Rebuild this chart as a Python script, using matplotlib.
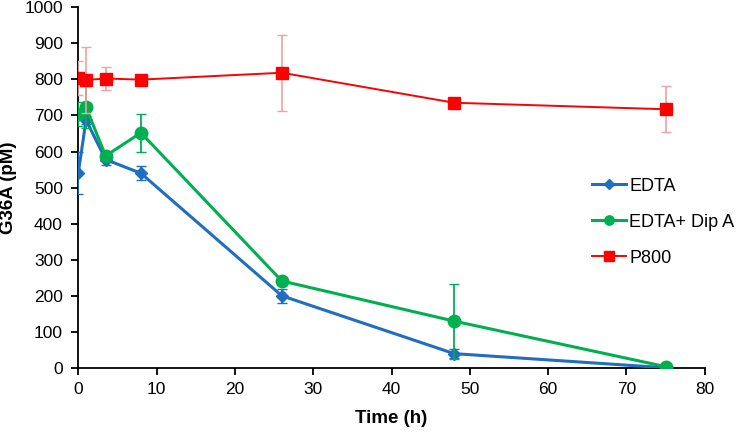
import matplotlib
matplotlib.use("Agg")
import matplotlib.pyplot as plt

plt.rcParams['font.family'] = ['Liberation Sans', 'DejaVu Sans']

# data
time_h = [0, 1, 3.5, 8, 26, 48, 75]
edta = [540, 687, 578, 540, 201, 41, 2]
edta_err = [58, 12, 15, 19, 20, 12, 0]
dipa = [703, 722, 588, 652, 242, 131, 5]
dipa_err = [33, 58, 10, 52, 8, 104, 0]
p800 = [803, 798, 802, 799, 818, 735, 717]
p800_err = [47, 90, 31, 8, 105, 8, 63]

fig = plt.figure(figsize=(7.38, 4.34), dpi=100)
ax = fig.add_axes([0.106, 0.151, 0.849, 0.833])

blue = '#1F6EBF'
green = '#00B050'
red = '#FF0000'

ax.errorbar(time_h, edta, yerr=edta_err, color=blue, lw=2.2, marker='D', ms=6.5,
            ecolor=blue, elinewidth=1.3, capsize=3.5, label='EDTA', zorder=3)
ax.errorbar(time_h, dipa, yerr=dipa_err, color=green, lw=2.2, marker='o', ms=9,
            ecolor=green, elinewidth=1.3, capsize=3.5, label='EDTA+ Dip A', zorder=4)
ax.errorbar(time_h, p800, yerr=p800_err, color=red, lw=1.4, marker='s', ms=9,
            ecolor='#F4A0A0', elinewidth=1.2, capsize=3.5, label='P800', zorder=5)

ax.set_xlim(0, 80)
ax.set_ylim(0, 1000)
ax.set_xticks(range(0, 81, 10))
ax.set_yticks(range(0, 1001, 100))
ax.spines['top'].set_visible(False)
ax.spines['right'].set_visible(False)
ax.spines['left'].set_linewidth(1.3)
ax.spines['bottom'].set_linewidth(1.3)
ax.tick_params(direction='out', length=5, width=1.3, labelsize=12.5)
ax.tick_params(axis='y', pad=6)
ax.tick_params(axis='x', pad=5)
ax.set_xlabel('Time (h)', fontsize=13.5, fontweight='bold')
ax.set_ylabel('G36A (pM)', fontsize=13.5, fontweight='bold')
ax.xaxis.set_label_coords(0.5, -0.115)
ax.yaxis.set_label_coords(-0.097, 0.5)

handles, labels = ax.get_legend_handles_labels()
handles = [h[0] for h in handles]
ax.legend(handles, labels, loc='center left', bbox_to_anchor=(0.82, 0.405),
          frameon=False, fontsize=13, handlelength=1.9, labelspacing=1.05,
          handletextpad=0.15, borderpad=0, borderaxespad=0, markerscale=0.75)

fig.savefig('out.png', dpi=100)
